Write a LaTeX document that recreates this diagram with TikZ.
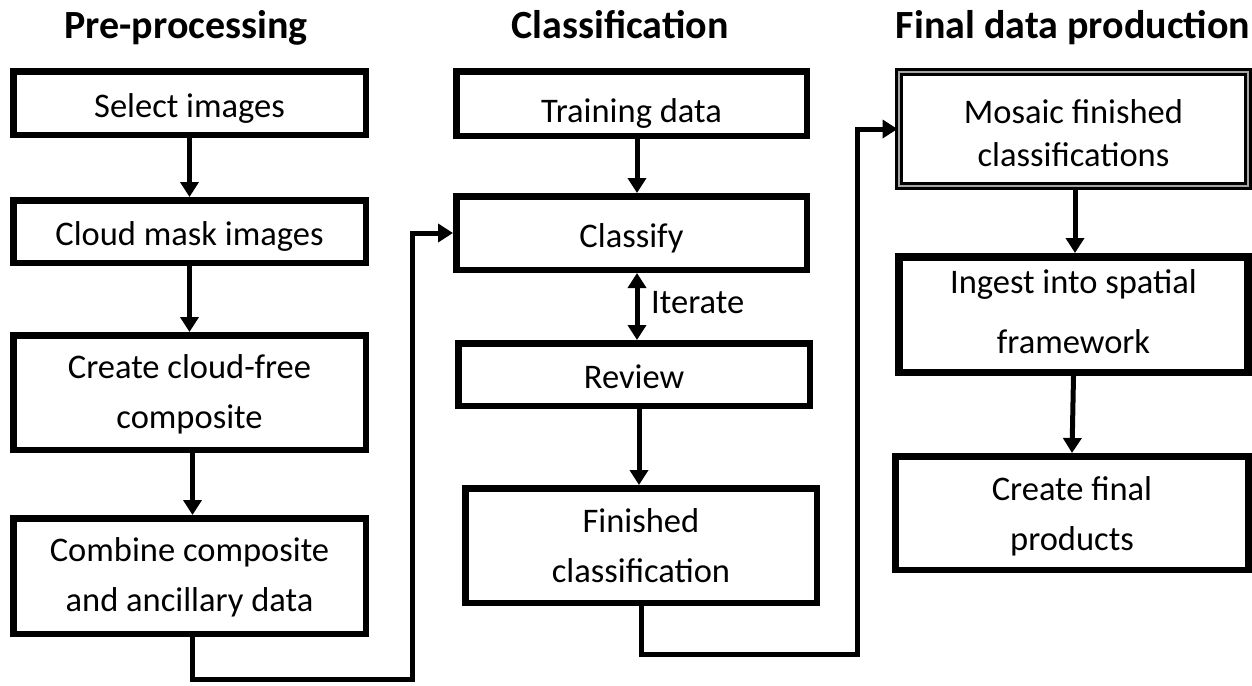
\documentclass[tikz,border=0pt]{standalone}
\usepackage{fontspec}
\setmainfont{Carlito}
\usetikzlibrary{arrows.meta,calc}
\tikzset{
  box/.style={draw=black, line width=6.5pt, fill=white, inner sep=0pt, align=center,
     font=\fontsize{34.5}{50}\selectfont},
  down/.style={text height=#1, text depth=0pt},
  head/.style={font=\fontsize{40}{44}\selectfont\bfseries, inner sep=0pt, anchor=base},
  tip/.tip={Triangle[width=18pt,length=15pt]},
  arr/.style={line width=5pt, -tip},
  darr/.style={line width=5pt, tip-tip},
  conn/.style={line width=5pt, -tip},
}
\begin{document}
\begin{tikzpicture}[x=1pt,y=-1pt]
\useasboundingbox (0,0) rectangle (1252,685);
% headings
\node[head] (h1) at (186,38) {Pre-processing};
\node[head] (h2) at (620,38) {Classification};
\node[head] (h3) at (1073,38) {Final data production};
% column 1
\node[box, down=28pt, minimum width=352.5pt, minimum height=63.5pt] (sel) at (189.5,103) {Select images};
\node[box, down=27pt, minimum width=352.5pt, minimum height=62.5pt] (cloud) at (189.5,231.5) {Cloud mask images};
\node[box, down=71pt, minimum width=352.5pt, minimum height=114.5pt] (create) at (189.5,392.5) {Create cloud-free\\composite};
\node[box, down=71pt, minimum width=352.5pt, minimum height=115.5pt] (comb) at (189.5,576) {Combine composite\\and ancillary data};
% column 2
\node[box, down=37pt, minimum width=350.5pt, minimum height=64.5pt] (train) at (631.5,103.5) {Training data};
\node[box, down=28pt, minimum width=350.5pt, minimum height=73.5pt] (classify) at (631.5,233) {Classify};
\node[box, down=27pt, minimum width=351.5pt, minimum height=62.5pt] (review) at (634,374.5) {Review};
\node[box, down=73pt, minimum width=351.5pt, minimum height=114.5pt] (fin) at (641,545.5) {Finished\\classification};
% column 3
\node[box, down=75pt, line width=3pt, double=gray!70, double distance=2pt, minimum width=349pt, minimum height=114pt,
      font=\fontsize{34.5}{43}\selectfont] (mosaic) at (1073.5,129) {Mosaic finished\\classifications};
\node[box, down=78pt, line width=7.5pt, minimum width=349pt, minimum height=115.5pt,
      font=\fontsize{34.5}{60}\selectfont] (ingest) at (1073.5,314.5) {Ingest into spatial\\framework};
\node[box, down=74pt, minimum width=353pt, minimum height=113.5pt] (final) at (1072,513) {Create final\\products};
% connectors column 1
\draw[arr] (sel.south) -- (cloud.north);
\draw[arr] (cloud.south) -- (create.north);
\draw[arr] ([xshift=3pt]create.south) -- ([xshift=3pt]comb.north);
\coordinate (c1) at (412.5,679.5);
\draw[conn] ([xshift=2.5pt]comb.south) |- (c1) |- (classify.west);
% column 2
\draw[arr] ([xshift=5.5pt]train.south) -- ([xshift=5.5pt]classify.north);
\draw[darr] ([xshift=5.5pt]classify.south) -- ([xshift=3pt]review.north);
\node[anchor=base west, inner sep=0pt, font=\fontsize{34.5}{40}\selectfont] (iter) at (651,313) {Iterate};
\draw[arr] ([xshift=5pt]review.south) -- ([xshift=-2pt]fin.north);
\coordinate (c2) at (857.5,654.5);
\draw[conn] (fin.south) |- (c2) |- (mosaic.west);
% column 3
\draw[arr] ([xshift=1.5pt]mosaic.south) -- ([xshift=1.5pt]ingest.north);
\draw[arr] (ingest.south) -- (final.north);
\end{tikzpicture}
\end{document}
